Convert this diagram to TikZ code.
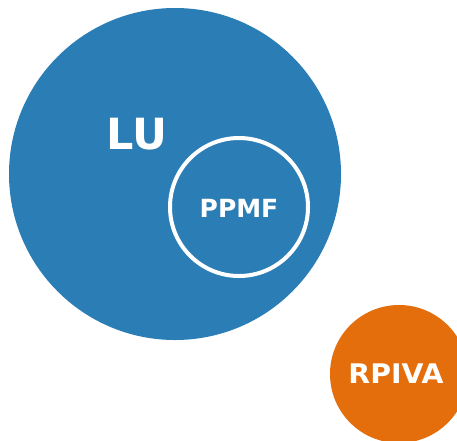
\documentclass[tikz,border=0pt]{standalone}
\usepackage{fontspec}
\setmainfont{DejaVu Sans}
\definecolor{lublue}{HTML}{2A7DB5}
\definecolor{rporange}{HTML}{E46D0C}
\begin{document}
\begin{tikzpicture}[x=1pt,y=-1pt,
  lbl/.style={text=white,font=\bfseries}]
\useasboundingbox (0,0) rectangle (457,440);
\begin{scope}
\clip (0,0) rectangle (457,440);
\fill[lublue] (175,174) circle[radius=166];
\draw[white,line width=4] (239,207) circle[radius=69];
\fill[rporange] (399,374) circle[radius=69];
\end{scope}
\node[lbl,font=\bfseries\fontsize{43}{43}\selectfont] (lu) at (137,134) {LU};
\node[lbl,font=\bfseries\fontsize{25}{25}\selectfont] (ppmf) at (239,208) {PPMF};
\node[lbl,font=\bfseries\fontsize{27}{27}\selectfont,xscale=1.05] (rpiva) at (396,374) {RPIVA};
\end{tikzpicture}
\end{document}
